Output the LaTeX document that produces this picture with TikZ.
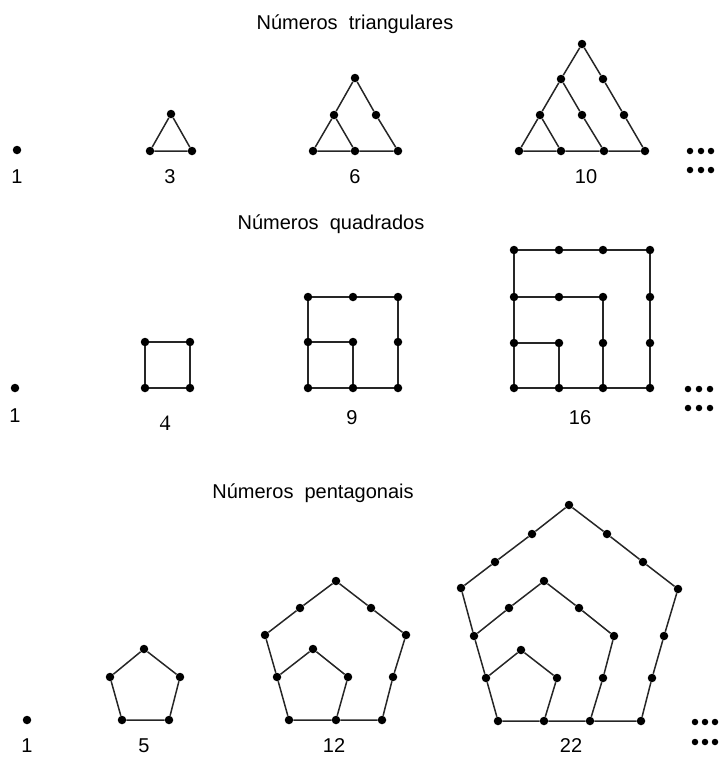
\documentclass[tikz,border=0pt]{standalone}
\usepackage{fontspec}
\setmainfont{Liberation Sans}
\newfontfamily\serifnum{Liberation Serif}
\begin{document}
\begin{tikzpicture}[x=1pt,y=-1pt,
  dot/.style={circle,fill=black,inner sep=0pt,minimum size=8.5pt},
  edot/.style={circle,fill=black,inner sep=0pt,minimum size=6.5pt},
  edge/.style={draw=black!85,line width=1.5pt},
  lbl/.style={font=\fontsize{20}{24}\selectfont,inner sep=0pt},
  ttl/.style={font=\fontsize{20}{24}\selectfont,inner sep=0pt,anchor=base}]
\useasboundingbox (0,0) rectangle (723,758);

% ---------- Titles ----------
\node[ttl] (title1) at (355,29) {Números\ \ triangulares};
\node[ttl] (title2) at (331,229) {Números\ \ quadrados};
\node[ttl] (title3) at (313,498) {Números\ \ pentagonais};

% ---------- Triangular numbers ----------
\node[dot] (t1) at (17,150) {};
\node[lbl] (lt1) at (17,177) {1};

\node[dot] (ta) at (171,114) {};
\node[dot] (tb) at (150,151) {};
\node[dot] (tc) at (192,151) {};
\draw[edge] (ta) -- (tb) -- (tc) -- (ta);
\node[lbl] (lt3) at (170,177) {3};

\node[dot] (ua) at (355,78) {};
\node[dot] (ub) at (334,115) {};
\node[dot] (uc) at (376,115) {};
\node[dot] (ud) at (313,151) {};
\node[dot] (ue) at (355,151) {};
\node[dot] (uf) at (398,151) {};
\draw[edge] (ua) -- (ub) -- (ud) -- (ue) -- (uf) -- (uc) -- (ua);
\draw[edge] (ub) -- (ue);
\node[lbl] (lt6) at (355,177) {6};

\node[dot] (va) at (582,44) {};
\node[dot] (vb) at (561,79) {};
\node[dot] (vc) at (603,79) {};
\node[dot] (vd) at (540,115) {};
\node[dot] (ve) at (582,115) {};
\node[dot] (vf) at (624,115) {};
\node[dot] (vg) at (519,151) {};
\node[dot] (vh) at (561,151) {};
\node[dot] (vi) at (604,151) {};
\node[dot] (vj) at (645,151) {};
\draw[edge] (va) -- (vb) -- (vd) -- (vg) -- (vh) -- (vi) -- (vj) -- (vf) -- (vc) -- (va);
\draw[edge] (vb) -- (ve) -- (vi);
\draw[edge] (vd) -- (vh);
\node[lbl] (lt10) at (586,177) {10};

\foreach \i/\x in {1/690,2/701,3/711}{
  \node[edot] (e1a\i) at (\x,151) {};
  \node[edot] (e1b\i) at (\x,170) {};
}

% ---------- Square numbers ----------
\node[dot] (s1) at (15,388) {};
\node[lbl] (ls1) at (15,416) {1};

\node[dot] (qa) at (145,342) {};
\node[dot] (qb) at (190,342) {};
\node[dot] (qc) at (190,388) {};
\node[dot] (qd) at (145,388) {};
\draw[edge] (qa) -- (qb) -- (qc) -- (qd) -- (qa);
\node[lbl,font=\fontsize{22}{24}\serifnum] (ls4) at (165,423) {4};

\foreach \c/\x in {1/308,2/353,3/398}{
  \foreach \r/\y in {1/297,2/342,3/388}{
    \node[dot] (n\c\r) at (\x,\y) {};
  }
}
\draw[edge] (n11) -- (n21) -- (n31) -- (n32) -- (n33) -- (n23) -- (n13) -- (n12) -- (n11);
\draw[edge] (n12) -- (n22) -- (n23);
\node[lbl] (ls9) at (352,418) {9};

\foreach \c/\x in {1/514,2/559,3/603,4/650}{
  \foreach \r/\y in {1/250,2/297,3/343,4/388}{
    \node[dot] (m\c\r) at (\x,\y) {};
  }
}
\draw[edge] (m11) -- (m21) -- (m31) -- (m41) -- (m42) -- (m43) -- (m44) -- (m34) -- (m24) -- (m14) -- (m13) -- (m12) -- (m11);
\draw[edge] (m12) -- (m22) -- (m32) -- (m33) -- (m34);
\draw[edge] (m13) -- (m23) -- (m24);
\node[lbl] (ls16) at (580,418) {16};

\foreach \i/\x in {1/688,2/699,3/710}{
  \node[edot] (e2a\i) at (\x,389) {};
  \node[edot] (e2b\i) at (\x,408) {};
}

% ---------- Pentagonal numbers ----------
\node[dot] (p1) at (27,720) {};
\node[lbl] (lp1) at (27,746) {1};

\node[dot] (fa) at (144,649) {};
\node[dot] (fb) at (110,677) {};
\node[dot] (fc) at (122,720) {};
\node[dot] (fd) at (169,720) {};
\node[dot] (fe) at (180,677) {};
\draw[edge] (fa) -- (fb) -- (fc) -- (fd) -- (fe) -- (fa);
\node[lbl] (lp5) at (144,746) {5};

\node[dot] (gtop) at (336,581) {};
\node[dot] (gtl) at (300,608) {};
\node[dot] (gul) at (265,635) {};
\node[dot] (gl) at (277,677) {};
\node[dot] (gbl) at (289,720) {};
\node[dot] (gb) at (336,720) {};
\node[dot] (gbr) at (382,720) {};
\node[dot] (gr) at (393,677) {};
\node[dot] (gur) at (406,635) {};
\node[dot] (gtr) at (371,608) {};
\node[dot] (gitop) at (313,649) {};
\node[dot] (giur) at (348,677) {};
\draw[edge] (gtop) -- (gtl) -- (gul) -- (gl) -- (gbl) -- (gb) -- (gbr) -- (gr) -- (gur) -- (gtr) -- (gtop);
\draw[edge] (gl) -- (gitop) -- (giur) -- (gb);
\node[lbl] (lp12) at (334,746) {12};

\node[dot] (htop) at (569,505) {};
\node[dot] (htl1) at (532,534) {};
\node[dot] (htl2) at (495,562) {};
\node[dot] (hul) at (461,588) {};
\node[dot] (hl1) at (474,636) {};
\node[dot] (hl2) at (486,678) {};
\node[dot] (hbl) at (498,721) {};
\node[dot] (hb1) at (544,721) {};
\node[dot] (hb2) at (590,721) {};
\node[dot] (hbr) at (641,721) {};
\node[dot] (hr1) at (652,678) {};
\node[dot] (hr2) at (664,636) {};
\node[dot] (hur) at (678,589) {};
\node[dot] (htr2) at (643,562) {};
\node[dot] (htr1) at (607,534) {};
\node[dot] (hmtop) at (544,581) {};
\node[dot] (hmtl) at (509,608) {};
\node[dot] (hmtr) at (579,608) {};
\node[dot] (hmur) at (614,636) {};
\node[dot] (hmr) at (603,678) {};
\node[dot] (hitop) at (521,650) {};
\node[dot] (hiur) at (557,678) {};
\draw[edge] (htop) -- (htl1) -- (htl2) -- (hul) -- (hl1) -- (hl2) -- (hbl) -- (hb1) -- (hb2) -- (hbr) -- (hr1) -- (hr2) -- (hur) -- (htr2) -- (htr1) -- (htop);
\draw[edge] (hl1) -- (hmtl) -- (hmtop) -- (hmtr) -- (hmur) -- (hmr) -- (hb2);
\draw[edge] (hl2) -- (hitop) -- (hiur) -- (hb1);
\node[lbl] (lp22) at (571,746) {22};

\foreach \i/\x in {1/695,2/705,3/715}{
  \node[edot] (e3a\i) at (\x,722) {};
  \node[edot] (e3b\i) at (\x,742) {};
}
\end{tikzpicture}
\end{document}
